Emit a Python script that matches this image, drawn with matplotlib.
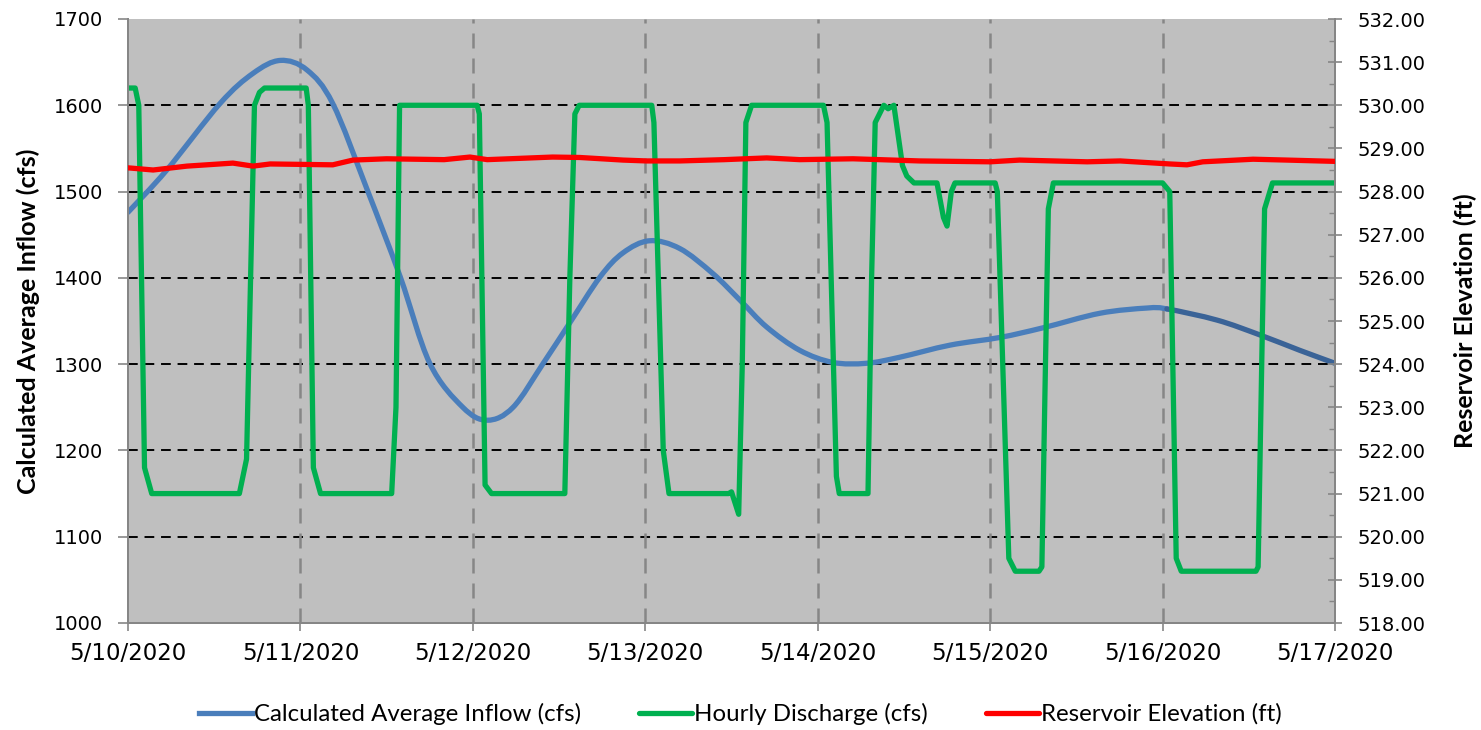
import matplotlib
matplotlib.use("Agg")
import matplotlib.pyplot as plt
import matplotlib.dates as mdates
from matplotlib.path import Path
from matplotlib.patches import PathPatch
from matplotlib.lines import Line2D
from matplotlib.ticker import FuncFormatter, MultipleLocator
import numpy as np
import pandas as pd

# ---- data (hours after 5/10/2020 00:00) ----
start = pd.Timestamp("2020-05-10")
x_ticks = pd.date_range("2020-05-10", "2020-05-17", freq="D")

inflow_hours = [0, 5.4, 12.8, 17.4, 21.2, 24.9, 28.5, 33.3, 37.9, 42.0, 46.6,
                50.0, 53.6, 57.8, 61.5, 65.7, 68.9, 72.6, 76.8, 81.4, 85.2, 88.9,
                93.5, 98.1, 102.8, 107.4, 114.4, 121.4, 127.3, 135.3, 141.8, 144.6]
inflow_vals = [1476, 1525, 1602, 1637, 1652, 1641, 1602, 1502, 1401, 1301, 1250,
               1235, 1250, 1301, 1348, 1401, 1429, 1443, 1434, 1405, 1374, 1343,
               1316, 1302, 1301, 1308, 1322, 1331, 1342, 1359, 1365, 1364]
inflow_tail_hours = [151.6, 157.5, 163.1, 168]
inflow_tail_vals = [1351, 1334, 1316, 1301]

discharge_hours = [0, 1.0, 1.5, 2.3, 3.3, 15.5, 16.5, 17.6, 18.3, 19.0,
                   24.8, 25.1, 25.8, 26.8, 36.7, 37.3, 37.8, 38.4,
                   48.6, 48.9, 49.7, 50.6, 60.8, 61.5, 62.2, 62.8,
                   72.9, 73.2, 74.5, 75.3, 83.6, 84.0, 85.0, 85.5, 86.0, 86.8,
                   96.8, 97.3, 98.6, 99.0, 103.0, 103.5, 104.0, 105.2, 105.8, 106.6,
                   107.8, 108.4, 109.4, 112.6, 113.5, 114.0, 114.6, 115.1,
                   120.7, 121.0, 122.6, 123.5, 126.8, 127.2, 127.7, 128.1, 128.8,
                   144.0, 145.0, 145.9, 146.6, 157.0, 157.3, 157.8, 158.2, 159.3, 168]
discharge_vals = [1620, 1620, 1600, 1180, 1150, 1150, 1190, 1600, 1615, 1620,
                  1620, 1600, 1180, 1150, 1150, 1250, 1600, 1600,
                  1600, 1590, 1160, 1150, 1150, 1400, 1590, 1600,
                  1600, 1580, 1200, 1150, 1150, 1152, 1126, 1300, 1580, 1600,
                  1600, 1580, 1170, 1150, 1150, 1400, 1580, 1600, 1596, 1600,
                  1530, 1518, 1510, 1510, 1470, 1460, 1500, 1510,
                  1510, 1500, 1075, 1060, 1060, 1065, 1300, 1480, 1510,
                  1510, 1500, 1075, 1060, 1060, 1065, 1300, 1480, 1510, 1510]

elev_hours = [0, 3.5, 8.2, 14.6, 17.4, 19.8, 28.5, 31.3, 36.0, 44.0, 47.6, 50.0, 59.1,
              62.9, 68.9, 72.2, 76.8, 83.0, 88.9, 93.5, 100.9, 110.2, 120.0, 124.1,
              133.5, 138.1, 145.0, 147.4, 149.6, 156.6, 161.3, 168]
elev_vals = [528.55, 528.50, 528.59, 528.66, 528.59, 528.64, 528.62, 528.73, 528.76, 528.74,
             528.80, 528.74, 528.80, 528.79, 528.73, 528.71, 528.71, 528.74, 528.78, 528.74,
             528.76, 528.71, 528.69, 528.73, 528.69, 528.71, 528.64, 528.62, 528.69, 528.75,
             528.73, 528.70]

labels = ["Calculated Average Inflow (cfs)", "Hourly Discharge (cfs)", "Reservoir Elevation (ft)"]


def to_dates(hours):
    return start + pd.to_timedelta(hours, unit="h")


def smooth_paths(xs, ys, split):
    """Excel-style smoothed line (cubic Bezier through the data points),
    returned as two paths split at data index `split`."""
    xs = np.asarray(xs, float)
    ys = np.asarray(ys, float)
    n = len(xs)
    segs = []
    for i in range(n - 1):
        p0 = np.array([xs[max(i - 1, 0)], ys[max(i - 1, 0)]])
        p1 = np.array([xs[i], ys[i]])
        p2 = np.array([xs[i + 1], ys[i + 1]])
        p3 = np.array([xs[min(i + 2, n - 1)], ys[min(i + 2, n - 1)]])
        c1 = p1 + (p2 - p0) / 6.0
        c2 = p2 - (p3 - p1) / 6.0
        segs.append((p1, c1, c2, p2))

    def build(seglist):
        verts = [seglist[0][0]]
        codes = [Path.MOVETO]
        for _, c1, c2, p2 in seglist:
            verts += [c1, c2, p2]
            codes += [Path.CURVE4] * 3
        return Path(np.array(verts), codes)

    return build(segs[:split]), build(segs[split:])


plt.rcParams["font.family"] = ["DejaVu Sans"]

fig = plt.figure(figsize=(14.81, 7.30), dpi=100)
ax = fig.add_axes([128 / 1481, 107 / 730, (1335 - 128) / 1481, (623 - 19) / 730])
ax2 = ax.twinx()
ax.set_facecolor("#BFBFBF")

blue = "#4A7EBB"
dark_blue = "#3A6397"
green = "#00B050"
red = "#FF0000"
LW = 3.8

all_in_hours = inflow_hours + inflow_tail_hours
all_in_vals = inflow_vals + inflow_tail_vals
xnum = mdates.date2num(to_dates(all_in_hours))
p_head, p_tail = smooth_paths(xnum, all_in_vals, len(inflow_hours) - 1)
ax.add_patch(PathPatch(p_head, fill=False, edgecolor=blue, lw=LW, capstyle="round",
                       joinstyle="round", zorder=3))
ax.add_patch(PathPatch(p_tail, fill=False, edgecolor=dark_blue, lw=LW, capstyle="round",
                       joinstyle="round", zorder=3))
l1 = Line2D([], [], color=blue, lw=LW)

l2, = ax.plot(to_dates(discharge_hours), discharge_vals, color=green, lw=LW,
              solid_capstyle="round", solid_joinstyle="round", zorder=4)
l3, = ax2.plot(to_dates(elev_hours), elev_vals, color=red, lw=LW, solid_capstyle="round",
               solid_joinstyle="round", zorder=5)

ax.set_xlim(x_ticks[0], x_ticks[-1])
ax.set_ylim(1000, 1700)
ax2.set_ylim(518, 532)

ax.set_xticks(x_ticks)
ax.xaxis.set_major_formatter(FuncFormatter(
    lambda v, p: (lambda d: f"{d.month}/{d.day}/{d.year}")(mdates.num2date(v))))
ax.yaxis.set_major_locator(MultipleLocator(100))
ax2.yaxis.set_major_locator(MultipleLocator(1))
ax2.yaxis.set_minor_locator(MultipleLocator(0.5))
ax2.yaxis.set_major_formatter(FuncFormatter(lambda v, p: f"{v:.2f}"))

# grids
for yv in range(1100, 1700, 100):
    ax.axhline(yv, color="black", lw=1.4, ls=(0, (5, 3.5)), zorder=1)
for d in x_ticks[1:-1]:
    ax.axvline(d, color="#868686", lw=1.8, ls=(0, (6, 4)), zorder=1)

spine_c = "#868686"
for a in (ax, ax2):
    a.spines["top"].set_visible(False)
    for s in ("left", "right", "bottom"):
        a.spines[s].set_color(spine_c)
        a.spines[s].set_linewidth(1.4)

ax.tick_params(axis="y", which="major", direction="out", length=7, width=1.2,
               color=spine_c, labelsize=14, labelcolor="black", pad=11)
ax.tick_params(axis="x", which="major", direction="out", length=6, width=1.2,
               color=spine_c, labelsize=16.5, labelcolor="black", pad=8)
ax2.tick_params(axis="y", which="major", direction="inout", length=10, width=1.2,
                color=spine_c, labelsize=14, labelcolor="black", pad=11)
ax2.tick_params(axis="y", which="minor", direction="in", length=4, width=1.0, color=spine_c)

ax.set_ylabel(labels[0], fontsize=18, fontweight="bold", family="Lato", labelpad=10)
ax2.set_ylabel(labels[2], fontsize=18, fontweight="bold", family="Lato", labelpad=20)

fig.legend([l1, l2, l3], labels, loc="center", bbox_to_anchor=(0.5, 16 / 730), ncol=3,
           frameon=False, prop={"family": "Lato", "size": 17.3}, handlelength=2.2,
           handletextpad=0.1, columnspacing=2.4)

fig.savefig("out.png", dpi=100, facecolor="white")
